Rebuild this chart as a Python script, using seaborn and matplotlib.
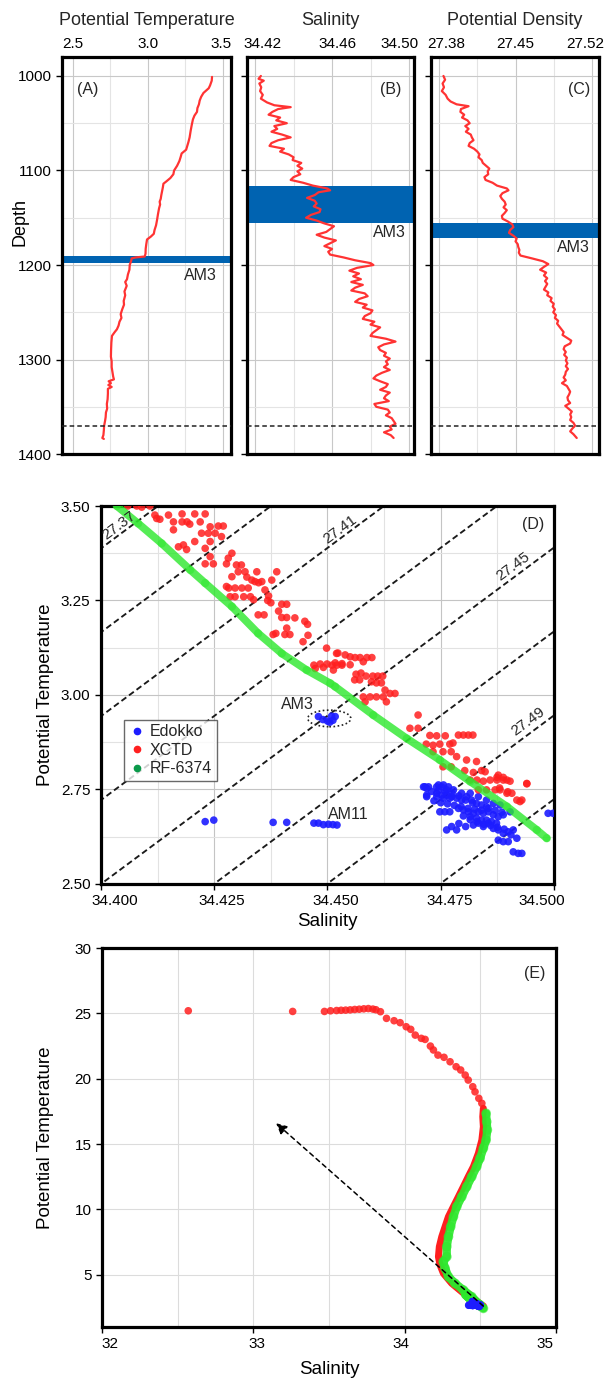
import numpy as np
import matplotlib
matplotlib.use('Agg')
import matplotlib.pyplot as plt
from matplotlib.patches import Ellipse
from matplotlib.lines import Line2D
from matplotlib.transforms import ScaledTranslation
import seaborn as sns

sns.set_theme(style='white')
plt.rcParams['font.family'] = ['Liberation Sans', 'DejaVu Sans']

#%% data: vertical profiles (A-C)
A_DEPTH = [1001, 1005, 1010, 1013, 1018, 1022, 1026, 1030, 1034, 1038, 1042, 1046, 1052, 1058, 1065,
           1070, 1078, 1082, 1086, 1090, 1095, 1100, 1104, 1108, 1112, 1114, 1118, 1122, 1126, 1130,
           1133, 1136, 1140, 1146, 1152, 1158, 1163, 1167, 1170, 1173, 1178, 1183, 1188, 1191, 1192,
           1193, 1196, 1200, 1205, 1210, 1215, 1218, 1222, 1228, 1232, 1238, 1242, 1247, 1252, 1256,
           1260, 1264, 1268, 1271, 1275, 1282, 1290, 1297, 1302, 1308, 1313, 1318, 1321, 1323, 1325,
           1327, 1329, 1331, 1336, 1342, 1347, 1352, 1356, 1361, 1365, 1370, 1375, 1380, 1383, 1384]
A_TEMP = [3.427, 3.425, 3.414, 3.405, 3.370, 3.355, 3.345, 3.340, 3.330, 3.327, 3.310, 3.300, 3.292, 3.285, 3.278,
          3.270, 3.255, 3.225, 3.218, 3.210, 3.195, 3.175, 3.170, 3.150, 3.120, 3.104, 3.100, 3.095, 3.090, 3.086,
          3.079, 3.082, 3.075, 3.068, 3.062, 3.055, 3.045, 3.040, 3.020, 2.995, 2.990, 2.986, 2.985, 2.980, 2.920,
          2.893, 2.889, 2.880, 2.878, 2.868, 2.862, 2.850, 2.860, 2.845, 2.850, 2.840, 2.842, 2.830, 2.820, 2.825,
          2.812, 2.806, 2.795, 2.780, 2.762, 2.758, 2.756, 2.755, 2.760, 2.760, 2.765, 2.770, 2.775, 2.740, 2.755,
          2.738, 2.760, 2.735, 2.735, 2.733, 2.728, 2.730, 2.722, 2.720, 2.716, 2.710, 2.708, 2.705, 2.698, 2.708]

B_DEPTH = [1000, 1003, 1005, 1008, 1012, 1016, 1020, 1024, 1028, 1031, 1033, 1035, 1038, 1041, 1044,
           1047, 1050, 1053, 1056, 1059, 1062, 1065, 1068, 1071, 1074, 1077, 1080, 1083, 1086, 1089,
           1092, 1095, 1098, 1101, 1104, 1107, 1110, 1113, 1116, 1119, 1121, 1123, 1126, 1129, 1132,
           1135, 1138, 1141, 1144, 1147, 1150, 1153, 1156, 1159, 1162, 1165, 1168, 1171, 1174, 1177,
           1180, 1183, 1186, 1189, 1192, 1195, 1198, 1200, 1203, 1206, 1209, 1212, 1215, 1218, 1221,
           1224, 1227, 1230, 1233, 1236, 1239, 1242, 1245, 1248, 1251, 1254, 1257, 1260, 1263, 1266,
           1269, 1272, 1275, 1278, 1281, 1284, 1287, 1290, 1293, 1296, 1299, 1302, 1305, 1308, 1311,
           1314, 1317, 1320, 1323, 1326, 1329, 1332, 1335, 1338, 1341, 1344, 1347, 1350, 1353, 1356,
           1359, 1362, 1365, 1368, 1371, 1374, 1377, 1380, 1383]
B_SAL = [34.4230, 34.4218, 34.4245, 34.4222, 34.4232, 34.4226, 34.4240, 34.4230, 34.4262, 34.4300,
         34.4385, 34.4320, 34.4290, 34.4270, 34.4330, 34.4310, 34.4365, 34.4300, 34.4315, 34.4285,
         34.4340, 34.4385, 34.4320, 34.4285, 34.4275, 34.4350, 34.4330, 34.4375, 34.4400, 34.4395,
         34.4440, 34.4420, 34.4445, 34.4420, 34.4435, 34.4400, 34.4385, 34.4450, 34.4500, 34.4575,
         34.4590, 34.4530, 34.4510, 34.4470, 34.4510, 34.4520, 34.4505, 34.4540, 34.4535, 34.4490,
         34.4465, 34.4520, 34.4560, 34.4610, 34.4590, 34.4570, 34.4520, 34.4560, 34.4620, 34.4590,
         34.4560, 34.4600, 34.4580, 34.4590, 34.4660, 34.4720, 34.4800, 34.4815, 34.4730, 34.4690,
         34.4740, 34.4710, 34.4750, 34.4700, 34.4760, 34.4720, 34.4700, 34.4770, 34.4785, 34.4740,
         34.4720, 34.4780, 34.4760, 34.4810, 34.4800, 34.4770, 34.4760, 34.4820, 34.4800, 34.4850,
         34.4830, 34.4810, 34.4800, 34.4880, 34.4930, 34.4870, 34.4840, 34.4850, 34.4880, 34.4870,
         34.4900, 34.4880, 34.4890, 34.4870, 34.4900, 34.4860, 34.4830, 34.4815, 34.4850, 34.4890,
         34.4880, 34.4850, 34.4900, 34.4880, 34.4870, 34.4895, 34.4820, 34.4830, 34.4890, 34.4900,
         34.4880, 34.4910, 34.4920, 34.4930, 34.4900, 34.4910, 34.4870, 34.4905, 34.4920]

C_DEPTH = [1000, 1004, 1008, 1012, 1016, 1020, 1024, 1027, 1030, 1032, 1035, 1038, 1041, 1044, 1047,
           1050, 1053, 1056, 1059, 1062, 1065, 1068, 1071, 1074, 1077, 1080, 1083, 1086, 1089, 1092,
           1095, 1098, 1101, 1104, 1107, 1110, 1113, 1116, 1119, 1121, 1124, 1127, 1130, 1133, 1136,
           1139, 1142, 1145, 1148, 1151, 1154, 1157, 1160, 1163, 1166, 1169, 1172, 1175, 1178, 1181,
           1184, 1187, 1190, 1193, 1196, 1199, 1202, 1205, 1208, 1211, 1214, 1217, 1220, 1223, 1226,
           1229, 1232, 1235, 1238, 1241, 1244, 1247, 1250, 1253, 1256, 1259, 1262, 1265, 1268, 1271,
           1274, 1277, 1280, 1283, 1286, 1289, 1292, 1295, 1298, 1301, 1304, 1307, 1310, 1313, 1316,
           1319, 1322, 1325, 1328, 1331, 1334, 1337, 1340, 1343, 1346, 1349, 1352, 1355, 1358, 1361,
           1364, 1367, 1370, 1373, 1376, 1379, 1383]
C_DENS = [27.3840, 27.3855, 27.3832, 27.3845, 27.3825, 27.3860, 27.3878, 27.3905, 27.3960, 27.4070,
          27.4000, 27.3995, 27.4030, 27.4010, 27.4060, 27.4080, 27.4040, 27.4070, 27.4045, 27.4090,
          27.4100, 27.4115, 27.4080, 27.4070, 27.4120, 27.4150, 27.4170, 27.4160, 27.4190, 27.4200,
          27.4230, 27.4260, 27.4245, 27.4250, 27.4215, 27.4225, 27.4290, 27.4330, 27.4420, 27.4435,
          27.4380, 27.4360, 27.4375, 27.4400, 27.4410, 27.4390, 27.4420, 27.4400, 27.4375, 27.4380,
          27.4430, 27.4470, 27.4480, 27.4450, 27.4440, 27.4480, 27.4510, 27.4500, 27.4520, 27.4525,
          27.4535, 27.4530, 27.4545, 27.4650, 27.4750, 27.4800, 27.4760, 27.4725, 27.4780, 27.4760,
          27.4790, 27.4770, 27.4790, 27.4775, 27.4760, 27.4800, 27.4790, 27.4830, 27.4820, 27.4850,
          27.4840, 27.4860, 27.4845, 27.4870, 27.4860, 27.4890, 27.4880, 27.4900, 27.4920, 27.4940,
          27.4930, 27.4970, 27.5010, 27.5000, 27.4950, 27.4940, 27.4960, 27.4945, 27.4970, 27.4960,
          27.4975, 27.4960, 27.4980, 27.4960, 27.4955, 27.4940, 27.4960, 27.4925, 27.4970, 27.4985,
          27.5000, 27.4990, 27.4975, 27.4980, 27.5000, 27.4955, 27.4985, 27.5015, 27.5000, 27.5010,
          27.5000, 27.5030, 27.5045, 27.5020, 27.5000, 27.5030, 27.5060]

# AM3 depth band per panel (top, bottom) and the bottom depth marker
AM3_BANDS = [(1190, 1198), (1116, 1155.5), (1155.5, 1171)]
AM3_LABEL_POS = [(3.35, 1211), (34.4896, 1166), (27.5026, 1181)]
BOTTOM_DEPTH = 1370

#%% data: T-S diagrams (D, E)
XCTD_S = [34.4059, 34.4079, 34.4090, 34.4108, 34.4119, 34.4123, 34.4130, 34.4149, 34.4160, 34.4160,
          34.4179, 34.4179, 34.4190, 34.4196, 34.4207, 34.4230, 34.4219, 34.4241, 34.4259, 34.4270,
          34.4222, 34.4237, 34.4252, 34.4241, 34.4207, 34.4266, 34.4230, 34.4171, 34.4182, 34.4189,
          34.4241, 34.4248, 34.4230, 34.4289, 34.4281, 34.4277, 34.4299, 34.4310, 34.4303, 34.4318,
          34.4289, 34.4322, 34.4344, 34.4333, 34.4388, 34.4377, 34.4340, 34.4348, 34.4355, 34.4277,
          34.4282, 34.4296, 34.4311, 34.4325, 34.4362, 34.4285, 34.4296, 34.4315, 34.4330, 34.4337,
          34.4370, 34.4368, 34.4375, 34.4399, 34.4410, 34.4392, 34.4399, 34.4410, 34.4347, 34.4360,
          34.4428, 34.4450, 34.4456, 34.4386, 34.4380, 34.4410, 34.4406, 34.4417, 34.4457, 34.4446,
          34.4498, 34.4523, 34.4470, 34.4484, 34.4499, 34.4510, 34.4521, 34.4532, 34.4473, 34.4491,
          34.4513, 34.4520, 34.4539, 34.4550, 34.4517, 34.4532, 34.4550, 34.4561, 34.4572, 34.4587,
          34.4598, 34.4579, 34.4563, 34.4574, 34.4585, 34.4600, 34.4611, 34.4622, 34.4560, 34.4571,
          34.4597, 34.4608, 34.4619, 34.4627, 34.4638, 34.4649, 34.4579, 34.4594, 34.4608, 34.4623,
          34.4583, 34.4630, 34.4700, 34.4682, 34.4700, 34.4726, 34.4741, 34.4760, 34.4789, 34.4800,
          34.4811, 34.4821, 34.4718, 34.4733, 34.4748, 34.4770, 34.4777, 34.4733, 34.4755, 34.4773,
          34.4785, 34.4807, 34.4829, 34.4755, 34.4773, 34.4803, 34.4822, 34.4840, 34.4848, 34.4815,
          34.4830, 34.4844, 34.4859, 34.4874, 34.4888, 34.4903, 34.4874, 34.4888, 34.4940, 34.4833,
          34.4851, 34.4870, 34.4881, 34.4896, 34.4907, 34.4918, 34.4929, 34.4877, 34.4896, 34.4940,
          34.4880, 34.4898, 34.4925]
XCTD_T = [3.500, 3.500, 3.497, 3.500, 3.476, 3.467, 3.465, 3.476, 3.458, 3.437,
          3.479, 3.458, 3.458, 3.452, 3.479, 3.479, 3.458, 3.445, 3.447, 3.447,
          3.428, 3.428, 3.428, 3.406, 3.406, 3.419, 3.388, 3.392, 3.397, 3.385,
          3.366, 3.347, 3.347, 3.375, 3.362, 3.347, 3.344, 3.344, 3.326, 3.326,
          3.313, 3.312, 3.326, 3.304, 3.326, 3.304, 3.300, 3.297, 3.300, 3.287,
          3.283, 3.283, 3.283, 3.283, 3.278, 3.260, 3.260, 3.260, 3.260, 3.252,
          3.262, 3.250, 3.244, 3.240, 3.240, 3.222, 3.205, 3.205, 3.212, 3.212,
          3.204, 3.195, 3.187, 3.163, 3.160, 3.177, 3.160, 3.160, 3.158, 3.141,
          3.124, 3.111, 3.079, 3.082, 3.082, 3.079, 3.079, 3.079, 3.070, 3.073,
          3.066, 3.110, 3.106, 3.101, 3.085, 3.083, 3.080, 3.099, 3.099, 3.099,
          3.099, 3.088, 3.055, 3.058, 3.050, 3.050, 3.050, 3.050, 3.040, 3.040,
          3.035, 3.032, 3.032, 3.013, 3.004, 3.004, 2.995, 2.995, 2.995, 2.995,
          2.982, 2.982, 2.947, 2.912, 2.912, 2.893, 2.892, 2.892, 2.894, 2.894,
          2.894, 2.894, 2.870, 2.867, 2.870, 2.870, 2.873, 2.850, 2.850, 2.850,
          2.837, 2.828, 2.824, 2.810, 2.810, 2.800, 2.795, 2.800, 2.797, 2.775,
          2.775, 2.772, 2.775, 2.775, 2.775, 2.772, 2.782, 2.782, 2.765, 2.749,
          2.749, 2.749, 2.749, 2.740, 2.740, 2.722, 2.722, 2.788, 2.775, 2.766,
          2.754, 2.744, 2.718]

EDOKKO_S = [34.4480, 34.4490, 34.4500, 34.4512, 34.4517, 34.4509, 34.4505,
            34.4230, 34.4249, 34.4380, 34.4410, 34.4470, 34.4480, 34.4491, 34.4502, 34.4512, 34.4521,
            34.4715, 34.4723, 34.4719, 34.4745, 34.4756, 34.4767, 34.4741, 34.4752, 34.4763, 34.4774,
            34.4785, 34.4796, 34.4807, 34.4818, 34.4829, 34.4840, 34.4851, 34.4748, 34.4759, 34.4770,
            34.4789, 34.4800, 34.4811, 34.4822, 34.4833, 34.4844, 34.4855, 34.4866, 34.4877, 34.4888,
            34.4903, 34.4763, 34.4774, 34.4785, 34.4822, 34.4833, 34.4844, 34.4855, 34.4866, 34.4877,
            34.4888, 34.4899, 34.4910, 34.4918, 34.4877, 34.4888, 34.4899, 34.4910, 34.4921, 34.4929,
            34.4987, 34.4998, 34.4829, 34.4840, 34.4851, 34.4862, 34.4873, 34.4815, 34.4712, 34.4719,
            34.4719, 34.4741, 34.4752, 34.4763, 34.4778, 34.4796, 34.4815, 34.4833, 34.4851, 34.4866,
            34.4881, 34.4741, 34.4756, 34.4770,
            34.4730, 34.4745, 34.4760, 34.4775, 34.4790, 34.4805, 34.4820, 34.4735, 34.4750, 34.4765,
            34.4780, 34.4795, 34.4810, 34.4825, 34.4840, 34.4855, 34.4870, 34.4885, 34.4800, 34.4815,
            34.4830, 34.4845, 34.4860, 34.4875, 34.4890, 34.4905, 34.4790, 34.4805]
EDOKKO_T = [2.943, 2.935, 2.931, 2.933, 2.943, 2.944, 2.928,
            2.665, 2.669, 2.663, 2.663, 2.661, 2.661, 2.657, 2.658, 2.657, 2.656,
            2.757, 2.757, 2.735, 2.762, 2.762, 2.757, 2.740, 2.735, 2.735, 2.731,
            2.727, 2.722, 2.731, 2.722, 2.713, 2.709, 2.704, 2.691, 2.691, 2.691,
            2.700, 2.696, 2.691, 2.687, 2.691, 2.687, 2.691, 2.683, 2.678, 2.683,
            2.691, 2.643, 2.652, 2.643, 2.656, 2.661, 2.652, 2.661, 2.647, 2.643,
            2.634, 2.638, 2.643, 2.621, 2.616, 2.612, 2.612, 2.585, 2.581, 2.581,
            2.687, 2.687, 2.674, 2.669, 2.669, 2.665, 2.661, 2.678, 2.757, 2.753,
            2.731, 2.757, 2.757, 2.749, 2.749, 2.740, 2.740, 2.731, 2.722, 2.713,
            2.709, 2.731, 2.727, 2.727,
            2.745, 2.748, 2.744, 2.740, 2.733, 2.722, 2.715, 2.720, 2.715, 2.712,
            2.708, 2.705, 2.700, 2.698, 2.695, 2.700, 2.695, 2.690, 2.680, 2.670,
            2.665, 2.658, 2.655, 2.650, 2.645, 2.630, 2.660, 2.652]

RF_S = [34.4035, 34.4082, 34.4134, 34.4197, 34.4230, 34.4289, 34.4347, 34.4399, 34.4454, 34.4506,
        34.4517, 34.4601, 34.4675, 34.4748, 34.4815, 34.4896, 34.4962, 34.4984]
RF_T = [3.500, 3.454, 3.401, 3.331, 3.296, 3.234, 3.163, 3.110, 3.066, 3.031,
        3.022, 2.947, 2.885, 2.828, 2.771, 2.705, 2.643, 2.621]

# full-depth profiles for panel E (upper part, above the deep water shown in D)
XCTD_SURF_S = [32.57, 33.26, 33.47, 33.51, 33.55, 33.58, 33.61, 33.64, 33.67, 33.70, 33.73, 33.76,
               33.79, 33.81, 33.84, 33.88, 33.93, 33.97, 34.01, 34.04, 34.07, 34.11, 34.135, 34.17,
               34.19, 34.22, 34.26, 34.30, 34.34, 34.37, 34.40, 34.42, 34.45, 34.465, 34.49, 34.51]
XCTD_SURF_T = [25.20, 25.15, 25.15, 25.20, 25.22, 25.24, 25.25, 25.27, 25.30, 25.32, 25.35, 25.37,
               25.33, 25.28, 25.13, 24.62, 24.44, 24.29, 23.98, 23.78, 23.34, 23.09, 23.01, 22.50,
               22.20, 21.81, 21.64, 21.30, 20.92, 20.67, 20.28, 19.90, 19.39, 19.00, 18.50, 18.12]
XCTD_MID_S = [34.52, 34.516, 34.52, 34.51, 34.487, 34.454, 34.42, 34.388, 34.355, 34.322, 34.289,
              34.267, 34.245, 34.229, 34.223, 34.234, 34.256, 34.311, 34.377, 34.432, 34.487, 34.52]
XCTD_MID_T = [17.74, 17.09, 16.33, 15.31, 14.29, 13.27, 12.50, 11.74, 10.97, 10.21, 9.44,
              8.68, 7.91, 7.15, 6.38, 5.74, 5.10, 4.34, 3.70, 3.19, 2.81, 2.62]
RF_MID_S = [34.538, 34.542, 34.546, 34.538, 34.520, 34.498, 34.476, 34.443, 34.410, 34.377, 34.344,
            34.322, 34.304, 34.289, 34.278, 34.278, 34.255, 34.267, 34.289, 34.333, 34.388, 34.443,
            34.498, 34.520]
RF_MID_T = [17.35, 16.71, 16.08, 15.31, 14.68, 13.91, 13.27, 12.50, 11.74, 10.97, 10.21,
            9.44, 8.68, 7.91, 7.15, 6.38, 6.00, 5.49, 4.85, 4.34, 3.83, 3.32, 2.69, 2.43]

# linear equation of state around the deep water (sigma-theta)
SIGMA_REF, S_REF, T_REF = 27.45, 34.40, 2.50
HALINE, THERMAL = 0.802, 0.0901
DENSITY_LEVELS = [27.33, 27.35, 27.37, 27.39, 27.41, 27.43, 27.45, 27.47, 27.49, 27.51, 27.53, 27.55]
DENSITY_LABELS = ['27.37', '27.41', '27.45', '27.49']
DENSITY_LABEL_S = [34.4040, 34.4528, 34.4910, 34.4943]
DENSITY_LABEL_T = [3.448, 3.439, 3.339, 2.929]

AM3_ELLIPSE = (34.4504, 2.938, 0.0095, 0.044)
ARROW_FROM, ARROW_TO = (34.52, 2.6), (33.15, 16.6)

RED = '#ff1f1f'
BLUE = '#1c1cff'
GREEN = '#2ce82c'
BAND = '#0063b1'

#%% figure
fig = plt.figure(figsize=(6.05, 13.78), dpi=100)

def style_spines(ax):
    for sp in ax.spines.values():
        sp.set_linewidth(2.3)
        sp.set_color('black')

def shift_ticklabels(labels, shifts_px):
    # nudge the outer tick labels inward like the original layout
    for lab, dx in zip(labels, shifts_px):
        lab.set_transform(lab.get_transform() + ScaledTranslation(dx / 100, 0, fig.dpi_scale_trans))

def profile_axes(rect, xlim, ticks, labels, minor, title, letter, letter_x):
    ax = fig.add_axes(rect)
    ax.set_xlim(*xlim)
    ax.set_ylim(1400, 980)
    ax.xaxis.tick_top()
    ax.xaxis.set_label_position('top')
    ax.set_xticks(ticks, labels)
    ax.set_xticks(minor, minor=True)
    ax.set_yticks([1000, 1100, 1200, 1300, 1400])
    ax.set_yticks([1050, 1150, 1250, 1350], minor=True)
    ax.grid(which='major', color='#c8c8c8', lw=0.8)
    ax.grid(which='minor', color='#e4e4e4', lw=0.8)
    ax.tick_params(which='minor', length=0)
    ax.tick_params(axis='x', which='major', top=True, length=0, pad=4, labelsize=11, colors='black')
    ax.tick_params(axis='y', which='major', left=True, length=4, width=1, labelsize=11, colors='black')
    style_spines(ax)
    ax.set_xlabel(title, fontsize=13, labelpad=9)
    ax.text(letter_x, 0.918, letter, transform=ax.transAxes, ha='center', va='center', fontsize=11.5)
    ax.set_ylabel('')
    return ax

axA = profile_axes([0.1025, 0.6705, 0.2793, 0.2881], (2.43, 3.553), [2.5, 3.0, 3.5], ['2.5', '3.0', '3.5'],
                   [2.75, 3.25], 'Potential Temperature', '(A)', 0.154)
axB = profile_axes([0.4083, 0.6705, 0.2760, 0.2881], (34.4158, 34.5026), [34.42, 34.46, 34.50],
                   ['34.42', '34.46', '34.50'], [34.44, 34.48], 'Salinity', '(B)', 0.862)
axC = profile_axes([0.7124, 0.6705, 0.2777, 0.2881], (27.3726, 27.5264), [27.38, 27.45, 27.52],
                   ['27.38', '27.45', '27.52'], [27.415, 27.485], 'Potential Density', '(C)', 0.881)
axA.set_ylabel('Depth', fontsize=13, color='black')
axA.yaxis.set_label_coords(-0.201, 0.584)
axB.tick_params(labelleft=False)
axC.tick_params(labelleft=False)
shift_ticklabels(axA.get_xticklabels(), [0, 0, -2])
shift_ticklabels(axB.get_xticklabels(), [7, 5, -9])
shift_ticklabels(axC.get_xticklabels(), [7, 0, -7])

for ax, x, y, band, lab in [(axA, A_TEMP, A_DEPTH, AM3_BANDS[0], AM3_LABEL_POS[0]),
                            (axB, B_SAL, B_DEPTH, AM3_BANDS[1], AM3_LABEL_POS[1]),
                            (axC, C_DENS, C_DEPTH, AM3_BANDS[2], AM3_LABEL_POS[2])]:
    ax.axhspan(band[0], band[1], color=BAND, lw=0, zorder=2)
    sns.lineplot(x=x, y=y, sort=False, estimator=None, color='#ff3333', lw=1.6, ax=ax, zorder=3)
    ax.axhline(BOTTOM_DEPTH, color='#222222', lw=1.1, ls=(0, (3, 2)), zorder=4)
    ax.text(lab[0], lab[1], 'AM3', ha='center', va='center', fontsize=11.5)

#%% panel D
axD = fig.add_axes([0.1669, 0.3585, 0.7488, 0.2743])
axD.set_xlim(34.40, 34.50)
axD.set_ylim(2.50, 3.50)
axD.set_xticks([34.400, 34.425, 34.450, 34.475, 34.500], ['34.400', '34.425', '34.450', '34.475', '34.500'])
axD.set_xticks([34.4125, 34.4375, 34.4625, 34.4875], minor=True)
axD.set_yticks([2.50, 2.75, 3.00, 3.25, 3.50], ['2.50', '2.75', '3.00', '3.25', '3.50'])
axD.set_yticks([2.625, 2.875, 3.125, 3.375], minor=True)
axD.grid(which='major', color='#c4c4c4', lw=0.8)
axD.grid(which='minor', color='#e2e2e2', lw=0.8)

SS, TT = np.meshgrid(np.linspace(34.38, 34.52, 60), np.linspace(2.4, 3.6, 60))
SIG = SIGMA_REF + HALINE * (SS - S_REF) - THERMAL * (TT - T_REF)
cs = axD.contour(SS, TT, SIG, levels=DENSITY_LEVELS, colors='#1a1a1a', linewidths=1.35, zorder=2)
cs.set_linestyle((0, (3.2, 1.8)))
slope_angle = np.degrees(np.arctan(HALINE / THERMAL))
for lab, s, t in zip(DENSITY_LABELS, DENSITY_LABEL_S, DENSITY_LABEL_T):
    axD.text(s, t, lab, rotation=slope_angle, transform_rotates_text=True, rotation_mode='anchor',
             ha='center', va='center', fontsize=11, zorder=6)

sns.scatterplot(x=EDOKKO_S, y=EDOKKO_T, color=BLUE, s=30, edgecolor='none', alpha=0.9, ax=axD, zorder=3)
sns.scatterplot(x=XCTD_S, y=XCTD_T, color=RED, s=30, edgecolor='none', alpha=0.85, ax=axD, zorder=3)
sns.lineplot(x=RF_S, y=RF_T, sort=False, estimator=None, color=GREEN, lw=5.5, alpha=0.8, ax=axD, zorder=4)
sns.scatterplot(x=RF_S, y=RF_T, color=GREEN, s=36, edgecolor='none', alpha=0.5, ax=axD, zorder=4)

axD.add_patch(Ellipse(AM3_ELLIPSE[:2], AM3_ELLIPSE[2], AM3_ELLIPSE[3], fill=False, ls=(0, (1, 1.5)),
                      lw=1.2, color='#222222', zorder=5))
axD.text(34.4433, 2.974, 'AM3', ha='center', va='center', fontsize=11.5)
axD.text(34.4547, 2.683, 'AM11', ha='center', va='center', fontsize=11.5)
axD.text(0.954, 0.95, '(D)', transform=axD.transAxes, ha='center', va='center', fontsize=11.5)

handles = [Line2D([], [], marker='o', ls='', color=BLUE, markersize=4.5),
           Line2D([], [], marker='o', ls='', color=RED, markersize=4.5),
           Line2D([], [], marker='o', ls='', color='#0a9a4a', markersize=4.5)]
leg = axD.legend(handles, ['Edokko', 'XCTD', 'RF-6374'], loc='lower left', bbox_to_anchor=(0.051, 0.272),
                 frameon=True, fancybox=False, edgecolor='#444444', fontsize=11.5, handletextpad=0.3,
                 labelspacing=0.22, borderpad=0.3, handlelength=1.0, borderaxespad=0)
leg.get_frame().set_linewidth(1)
axD.set_xlabel('Salinity', fontsize=13.5, color='black', labelpad=3)
axD.set_ylabel('Potential Temperature', fontsize=13.5, color='black')
axD.yaxis.set_label_coords(-0.104, 0.5)
axD.tick_params(which='major', left=True, bottom=True, length=4, width=1, labelsize=11, colors='black')
axD.tick_params(which='minor', length=0)
shift_ticklabels(axD.get_xticklabels(), [14, 8, 8, 9, -12])
style_spines(axD)

#%% panel E
axE = fig.add_axes([0.1686, 0.0370, 0.7504, 0.2750])
axE.set_xlim(32, 35)
axE.set_ylim(1, 30)
axE.set_xticks([32, 33, 34, 35])
axE.set_xticks([32.5, 33.5, 34.5], minor=True)
axE.set_yticks([5, 10, 15, 20, 25, 30])
axE.grid(which='both', color='#dcdcdc', lw=0.8)

sns.scatterplot(x=XCTD_SURF_S, y=XCTD_SURF_T, color=RED, s=30, edgecolor='none', alpha=0.85, ax=axE, zorder=3)
sns.lineplot(x=XCTD_MID_S, y=XCTD_MID_T, sort=False, estimator=None, color=RED, lw=5, ax=axE, zorder=3)
sns.scatterplot(x=XCTD_S, y=XCTD_T, color=RED, s=30, edgecolor='none', alpha=0.85, ax=axE, zorder=3)
sns.lineplot(x=RF_MID_S, y=RF_MID_T, sort=False, estimator=None, color=GREEN, lw=6, alpha=0.9, ax=axE, zorder=4)
sns.scatterplot(x=RF_MID_S, y=RF_MID_T, color=GREEN, s=50, edgecolor='none', alpha=0.6, ax=axE, zorder=4)
sns.scatterplot(x=RF_S, y=RF_T, color=GREEN, s=50, edgecolor='none', alpha=0.8, ax=axE, zorder=4)
sns.scatterplot(x=EDOKKO_S, y=EDOKKO_T, color=BLUE, s=30, edgecolor='none', alpha=0.9, ax=axE, zorder=5)

axE.annotate('', xy=ARROW_TO, xytext=ARROW_FROM, zorder=6,
             arrowprops=dict(arrowstyle='-|>', ls=(0, (3, 2.5)), color='black', lw=1.1,
                             mutation_scale=16, shrinkA=0, shrinkB=0))
axE.text(0.952, 0.934, '(E)', transform=axE.transAxes, ha='center', va='center', fontsize=11.5)
axE.set_xlabel('Salinity', fontsize=13.5, color='black', labelpad=7)
axE.set_ylabel('Potential Temperature', fontsize=13.5, color='black')
axE.yaxis.set_label_coords(-0.106, 0.5)
axE.tick_params(which='major', left=True, bottom=True, length=4, width=1, labelsize=11, colors='black')
axE.tick_params(which='minor', length=0)
shift_ticklabels(axE.get_xticklabels(), [8, 4, -4, -11])
style_spines(axE)

fig.savefig('out.png', dpi=100)
